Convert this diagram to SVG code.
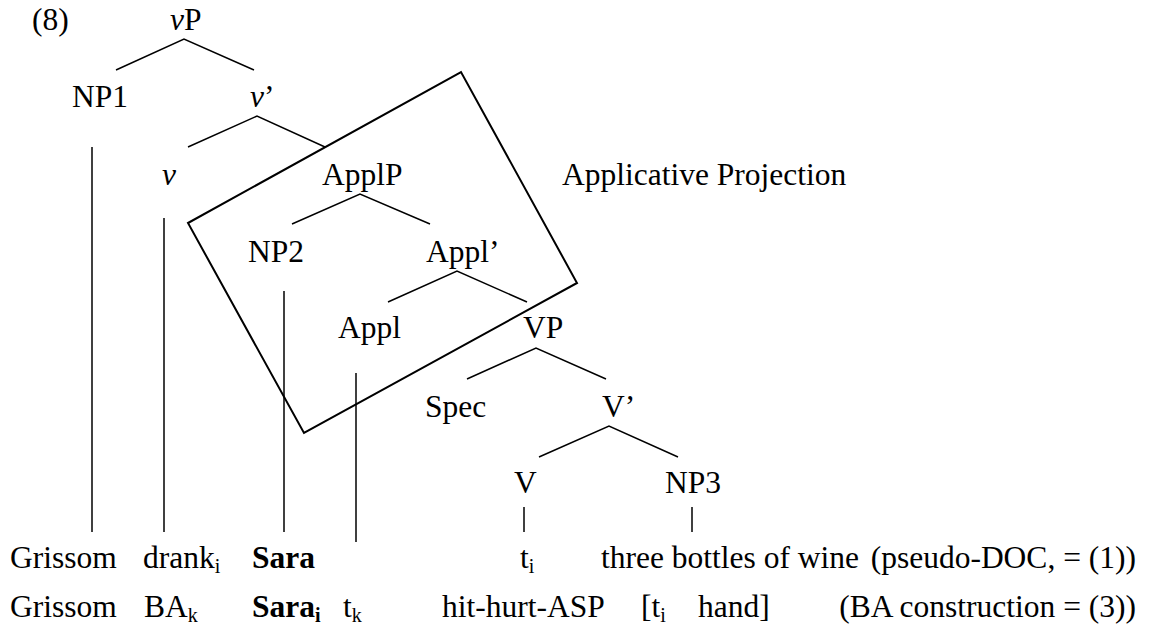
<svg xmlns="http://www.w3.org/2000/svg" width="1156" height="632" viewBox="0 0 1156 632">
<style>
text{font-family:"Liberation Serif","Times New Roman",serif;font-size:31.5px;fill:#000}
.it{font-style:italic}
.b{font-weight:bold}
.sub{font-size:20px}
.e{stroke:#000;stroke-width:1.5;fill:none}
.box{stroke:#000;stroke-width:2;fill:none}
</style>
<rect width="1156" height="632" fill="#fff"/>
<text x="32" y="30">(8)</text>
<g id="connectors">
<polyline class="e" points="116,70 184,39 254,70"/>
<polyline class="e" points="188,147 257,116 325,147"/>
<polyline class="e" points="292,224 360,194 430,224"/>
<polyline class="e" points="388,302 457,271 527,302"/>
<polyline class="e" points="467,379 536,348 606,379"/>
<polyline class="e" points="539,457 609,426 678,457"/>
<line class="e" x1="92" y1="147" x2="92" y2="532"/>
<line class="e" x1="164" y1="218" x2="164" y2="532"/>
<line class="e" x1="284" y1="291" x2="284" y2="532"/>
<line class="e" x1="356" y1="373" x2="356" y2="542"/>
<line class="e" x1="524" y1="507" x2="524" y2="532"/>
<line class="e" x1="692" y1="507" x2="692" y2="532"/>
</g>
<g id="applicative-box">
<polygon class="box" points="188,223 461,72 577,283 304,433"/>
<text x="562" y="185">Applicative Projection</text>
</g>
<g id="vP"><text x="170" y="30"><tspan class="it">v</tspan>P</text></g>
<g id="NP1"><text x="72" y="107">NP1</text></g>
<g id="vbar"><text x="250" y="107"><tspan class="it">v</tspan>’</text></g>
<g id="v"><text x="162" y="185" class="it">v</text></g>
<g id="ApplP"><text x="322" y="185">ApplP</text></g>
<g id="NP2"><text x="248" y="262">NP2</text></g>
<g id="Applbar"><text x="426" y="262">Appl’</text></g>
<g id="Appl"><text x="338" y="338">Appl</text></g>
<g id="VP"><text x="523" y="338">VP</text></g>
<g id="Spec"><text x="425" y="417">Spec</text></g>
<g id="Vbar"><text x="602" y="417">V’</text></g>
<g id="V"><text x="514" y="493">V</text></g>
<g id="NP3"><text x="665" y="493">NP3</text></g>
<g id="row1">
<text x="10" y="568">Grissom</text>
<text x="143" y="568">drank<tspan class="sub" dy="5">i</tspan></text>
<text x="252" y="568" class="b">Sara</text>
<text x="520" y="568">t<tspan class="sub" dy="5">i</tspan></text>
<text x="601" y="568">three bottles of wine</text>
<text x="1136" y="568" text-anchor="end">(pseudo-DOC, = (1))</text>
</g>
<g id="row2">
<text x="10" y="617">Grissom</text>
<text x="144" y="617">BA<tspan class="sub" dy="5">k</tspan></text>
<text x="252" y="617" class="b">Sara<tspan class="sub" dy="5">i</tspan></text>
<text x="343" y="617">t<tspan class="sub" dy="5">k</tspan></text>
<text x="442" y="617">hit-hurt-ASP</text>
<text x="641" y="617">[t<tspan class="sub" dy="5">i</tspan></text>
<text x="698" y="617">hand]</text>
<text x="1136" y="617" text-anchor="end">(BA construction = (3))</text>
</g>
</svg>
